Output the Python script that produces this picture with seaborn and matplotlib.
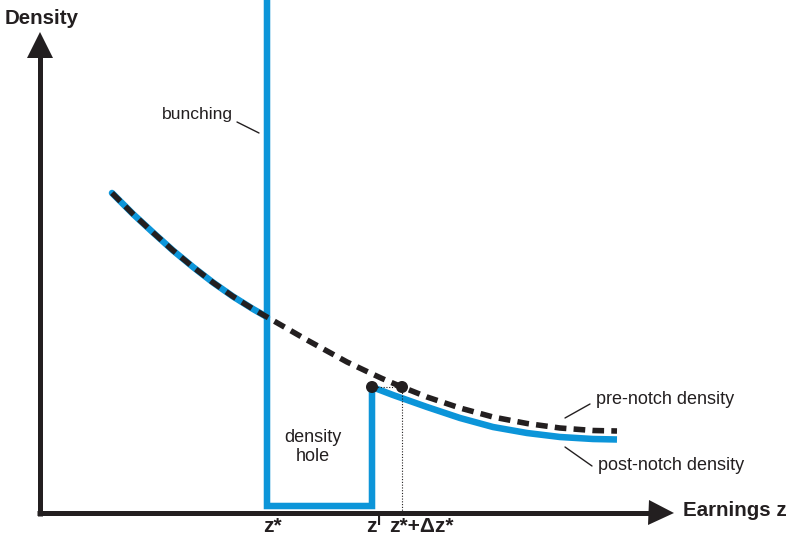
import matplotlib
matplotlib.use('Agg')
import matplotlib.pyplot as plt
import seaborn as sns

# values (x = earnings, y = density, arbitrary units)
pre_z = [72, 93, 113, 133, 153, 173, 193, 213, 227, 247, 267, 287, 307, 327,
         342, 362, 387, 420, 453, 487, 520, 553, 577]
pre_density = [320, 299, 280.5, 262.5, 246, 230.5, 216.5, 204, 196, 184.5, 173, 162,
               151, 141.5, 134.5, 126, 116, 105, 96, 89.5, 85, 82.5, 82]

post_z = [332, 353, 387, 420, 453, 487, 520, 553, 577]
post_density = [126, 118, 106, 95, 86, 80, 76, 74, 73.5]

z_star = 227        # notch point z*
z_I = 332           # top of the density hole z^I
z_dz = 362          # z* + delta z*
hole_floor = 7
bunching_top = 560

tick_pos = [z_star, z_I, z_dz]
tick_labels = ['z*', r'$\mathbf{z^{I}}$', 'z*+Δz*']

BLUE = '#0c95d9'
INK = '#231f20'

sns.set_theme(style='white')
plt.rcParams['font.family'] = ['Liberation Sans', 'DejaVu Sans']
plt.rcParams['mathtext.fontset'] = 'custom'
plt.rcParams['mathtext.bf'] = 'Liberation Sans:bold'
plt.rcParams['mathtext.rm'] = 'Liberation Sans'

fig = plt.figure(figsize=(7.94, 5.38), dpi=100)
ax = fig.add_axes([0, 0, 1, 1])
ax.set_xlim(-40, 754)
ax.set_ylim(-25, 513)
ax.axis('off')

# blue post-notch density: smooth part below z*, bunching spike, hole, then curve
n_below = pre_z.index(z_star) + 1
sns.lineplot(x=pre_z[:n_below], y=pre_density[:n_below], sort=False, estimator=None,
             color=BLUE, lw=4.7, ax=ax)
step_x = [z_star, z_star, z_I, z_I] + post_z
step_y = [bunching_top, hole_floor, hole_floor, post_density[0]] + post_density
sns.lineplot(x=step_x, y=step_y, sort=False, estimator=None, color=BLUE, lw=4.7,
             solid_joinstyle='miter', solid_capstyle='butt', ax=ax)

# dotted guides
dz_density = pre_density[pre_z.index(z_dz)]
ax.plot([z_dz, z_dz], [0, dz_density], color=INK, lw=0.8, ls=(0, (1, 1.5)))
ax.plot([z_I, z_dz], [post_density[0], dz_density], color=INK, lw=0.8, ls=(0, (1, 1.5)))

# pre-notch density (dashed)
sns.lineplot(x=pre_z, y=pre_density, sort=False, estimator=None, color=INK, lw=4.0,
             linestyle=(0, (2.1, 1.3)), ax=ax)

sns.scatterplot(x=[z_I, z_dz], y=[post_density[0], dz_density], color=INK, s=75,
                edgecolor='none', zorder=5, ax=ax)

# axes: shafts plus triangle heads
ax.plot([0, 0], [-2.5, 462], color=INK, lw=3.6, solid_capstyle='butt')
ax.plot([-2.5, 615], [0, 0], color=INK, lw=3.6, solid_capstyle='butt')
ax.plot([0], [468], marker='^', markersize=18.5, color=INK, markeredgewidth=0)
ax.plot([621], [0], marker='>', markersize=18, color=INK, markeredgewidth=0)

ax.text(-35, 495, 'Density', fontsize=14.8, fontweight='bold', color=INK, ha='left', va='center')
ax.text(643, 2, 'Earnings z', fontsize=14.8, fontweight='bold', color=INK, ha='left', va='center')

# tick labels under the axis
ax.text(tick_pos[0] - 4, -14, tick_labels[0], fontsize=15, fontweight='bold', color=INK,
        ha='left', va='center')
ax.text(tick_pos[1] + 2, -13, tick_labels[1], fontsize=15, color=INK,
        ha='center', va='center')
ax.text(tick_pos[2] - 13, -14, tick_labels[2], fontsize=15, fontweight='bold', color=INK,
        ha='left', va='center')

ax.text(193, 398, 'bunching', fontsize=12.6, color=INK, ha='right', va='center')
ax.plot([197, 219], [391, 380], color=INK, lw=1)

ax.text(273, 66, 'density\nhole', fontsize=13, color=INK, ha='center', va='center',
        linespacing=1.15)

ax.text(556, 114, 'pre-notch density', fontsize=13, color=INK, ha='left', va='center')
ax.plot([550, 525], [109, 95], color=INK, lw=1)
ax.text(558, 47, 'post-notch density', fontsize=13, color=INK, ha='left', va='center')
ax.plot([525, 552], [66, 47], color=INK, lw=1)

fig.savefig('out.png', dpi=100)
